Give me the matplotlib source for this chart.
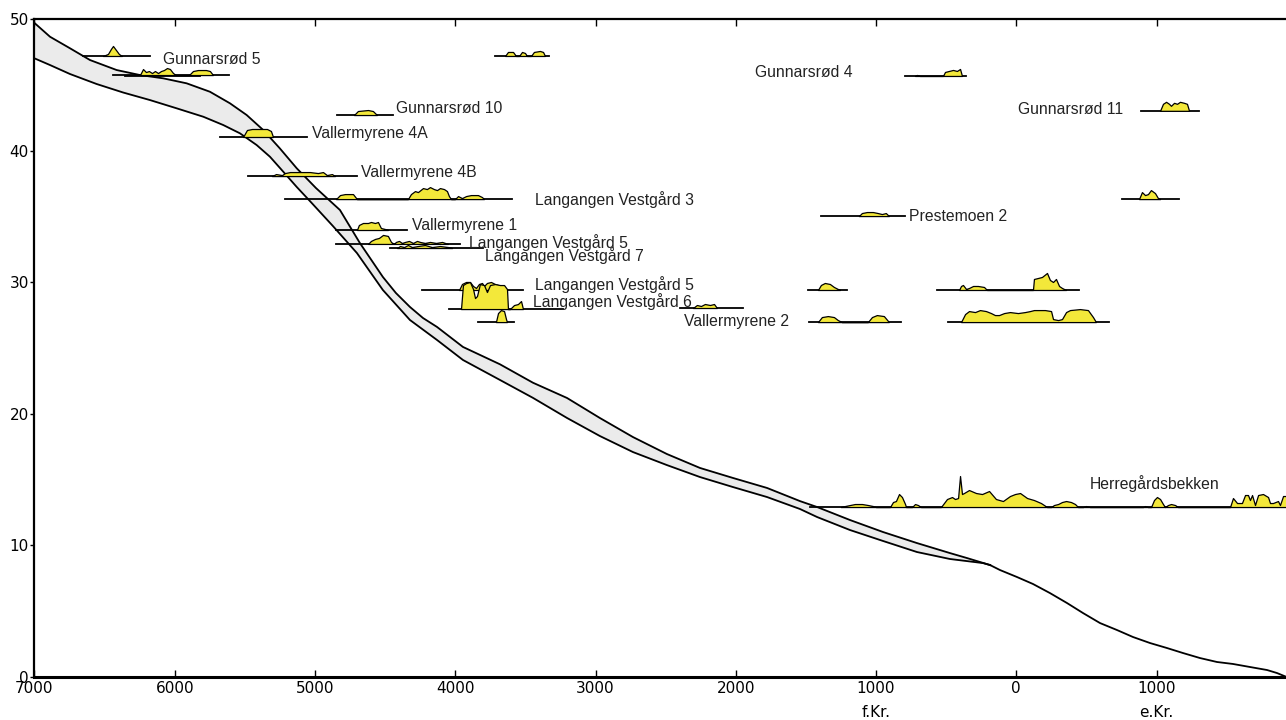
import matplotlib.pyplot as plt
import numpy as np

# shoreline displacement curve (year, m above sea level); negative years = f.Kr.
upper_year = [-7000, -6889, -6746, -6604, -6414, -6248, -6082, -5915, -5749, -5606, -5487,
              -5369, -5251, -5130, -4993, -4822, -4680, -4516, -4423, -4323, -4230, -4130,
              -3945, -3681, -3446, -3203, -2969, -2733, -2491, -2255, -2020, -1777, -1542,
              -1420, -1185, -950, -708, -473, -351, -187]
upper_level = [49.7, 48.65, 47.77, 46.88, 46.12, 45.74, 45.49, 45.11, 44.47, 43.59, 42.70,
               41.56, 40.17, 38.65, 37.15, 35.48, 32.97, 30.39, 29.17, 28.11, 27.27, 26.59,
               25.07, 23.75, 22.35, 21.19, 19.67, 18.22, 16.93, 15.87, 15.11, 14.35, 13.35,
               12.90, 11.91, 11.00, 10.16, 9.40, 9.02, 8.49]
lower_year = [-7000, -6889, -6747, -6557, -6367, -6177, -5986, -5796, -5654, -5535, -5416,
              -5321, -5226, -5130, -5036, -4872, -4701, -4516, -4323, -4130, -3945, -3681,
              -3446, -3203, -2969, -2733, -2491, -2255, -2020, -1777, -1542, -1420, -1185,
              -950, -708, -473, -237, -187]
lower_level = [47.01, 46.50, 45.82, 45.06, 44.41, 43.84, 43.21, 42.57, 41.94, 41.31, 40.42,
               39.53, 38.39, 37.23, 36.16, 34.26, 32.21, 29.40, 27.12, 25.60, 24.08, 22.56,
               21.20, 19.67, 18.30, 17.08, 16.09, 15.18, 14.42, 13.66, 12.75, 12.14, 11.15,
               10.32, 9.48, 8.95, 8.64, 8.49]
tail_year = [-187, -116, 5, 119, 240, 362, 476, 597, 718, 832, 954, 1075, 1189, 1310, 1431,
             1545, 1666, 1788, 1859, 1923]
tail_level = [8.49, 8.11, 7.58, 7.05, 6.36, 5.60, 4.84, 4.08, 3.55, 3.02, 2.56, 2.18, 1.80,
              1.42, 1.12, 0.97, 0.74, 0.51, 0.28, 0.0]

# dated sites: baseline level and span
line_level = [47.19, 45.74, 45.63, 47.19, 42.70, 41.03, 38.06, 36.31, 33.96, 32.90, 32.59,
              29.40, 27.95, 26.96, 28.03, 26.96, 26.96, 29.40, 29.40, 35.02, 45.67, 43.02,
              36.31, 12.90]
line_start = [-6654, -6440, -6355, -3717, -4843, -5677, -5478, -5214, -4850, -4850, -4465,
              -4237, -4045, -3838, -2398, -1478, -487, -1485, -565, -1392, -793, 889,
              754, -1471]
line_end = [-6177, -5613, -5820, -3332, -4444, -5057, -4701, -3595, -4344, -3966, -3802,
            -3517, -3232, -3581, -1948, -822, 661, -1207, 447, -793, -358, 1303,
            1160, 1930]

# summed probability profiles (year, relative height); index = baseline above
prof_year = {
    0: [-6512, -6476, -6455, -6440, -6419, -6398, -6376],
    1: [-6248, -6226, -6205, -6184, -6162, -6141, -6119, -6098, -6077, -6055, -6034, -6012, -5991,
        -5898, -5870, -5834, -5777, -5749, -5727],
    3: [-3645, -3624, -3588, -3567, -3545, -3524, -3503, -3488, -3460, -3439, -3396, -3374, -3360],
    4: [-4722, -4694, -4622, -4587, -4558],
    5: [-5513, -5485, -5449, -5342, -5314, -5299],
    6: [-5307, -5278, -5235, -5214, -5178, -5107, -5036, -4979, -4943, -4915, -4879, -4857],
    7: [-4850, -4822, -4786, -4729, -4701,
        -4337, -4316, -4287, -4266, -4230, -4202, -4180, -4152, -4130, -4109, -4080, -4059, -4045, -4030,
        -4002, -3980, -3952, -3923, -3888, -3838, -3809, -3795],
    8: [-4701, -4687, -4658, -4622, -4601, -4572, -4551, -4530, -4501, -4480],
    9: [-4622, -4601, -4572, -4544, -4515, -4480, -4458, -4437, -4423, -4401, -4380, -4358, -4330,
        -4301, -4273, -4251, -4216, -4180, -4137, -4094, -4052],
    10: [-4415, -4394, -4365, -4337, -4308, -4266, -4216, -4166, -4109, -4052, -4023],
    12: [-3959, -3945, -3923, -3895, -3873, -3859, -3845, -3824, -3795, -3774, -3752, -3717, -3681,
         -3652, -3631, -3624, -3610, -3581, -3553, -3531, -3517],
    11: [-3973, -3952, -3923, -3895, -3873, -3852, -3831, -3809, -3795, -3774, -3745, -3717, -3695, -3681],
    13: [-3710, -3695, -3674, -3652, -3638, -3631],
    14: [-2305, -2277, -2248, -2220, -2184, -2155, -2134],
    15: [-1414, -1386, -1343, -1300, -1272, -1243, -1058, -1029, -994, -944, -908],
    16: [-394, -365, -337, -294, -259, -216, -180, -152, -123, -87, -45, 12, 62, 98, 126, 205, 248,
         262, 298, 326, 355, 383, 454, 511, 547, 568],
    17: [-1414, -1393, -1365, -1329, -1300, -1272, -1257],
    18: [-408, -394, -380, -358, -337, -308, -273, -230, -209,
         119, 126, 155, 183, 219, 240, 262, 283, 305, 326, 355],
    19: [-1122, -1101, -1065, -1022, -987, -958, -930, -908],
    20: [-722, -708, -687, -523, -508, -480, -451, -423, -401, -387],
    21: [1025, 1046, 1068, 1089, 1103, 1125, 1146, 1167, 1196, 1217, 1232],
    22: [875, 896, 918, 939, 960, 989, 1010, 1025],
    23: [-1250, -1221, -1186, -1150, -1100, -1057, -1022, -1000,
         -900, -879, -858, -836, -815, -793, -786, -743, -722, -701, -679,
         -537, -494, -458, -437, -415, -401, -387, -373, -337, -287, -244, -194, -145, -95, -45, -9,
         27, 77, 126, 176, 219, 248, 269, 298, 326, 355, 390, 419, 440, 476, 497, 526,
         904, 918, 939, 961, 982, 1003, 1025, 1046, 1060, 1082, 1103, 1132, 1153,
         1524, 1545, 1574, 1609, 1631, 1652, 1666, 1681, 1702, 1724, 1759, 1795, 1809, 1830, 1866,
         1880, 1902, 1923, 1930],
}
prof_height = {
    0: [0, 2, 7, 10, 6, 2, 0],
    1: [0, 6, 3, 4, 2, 4, 2, 4, 5, 7, 6, 2, 0, 0, 4, 5, 5, 4, 0],
    3: [0, 4, 4, 0, 0, 4, 3, 0, 0, 4, 5, 4, 0],
    4: [0, 4, 5, 4, 0],
    5: [0, 7, 8, 8, 6, 0],
    6: [0, 2, 1, 3, 4, 4, 4, 3, 4, 1, 2, 0],
    7: [0, 4, 5, 5, 0,
        0, 5, 8, 7, 11, 10, 12, 10, 9, 11, 10, 8, 3, 0,
        0, 3, 1, 3, 4, 4, 2, 0],
    8: [0, 5, 7, 7, 8, 7, 8, 2, 1, 0],
    9: [0, 3, 5, 6, 9, 8, 2, 0, 2, 3, 1, 2, 3, 1, 3, 2, 1, 2, 1, 2, 0],
    10: [0, 2, 1, 3, 1, 2, 3, 1, 2, 1, 0],
    12: [0, 24, 26, 27, 20, 11, 13, 25, 24, 17, 24, 25, 24, 24, 20, 0, 0, 4, 5, 8, 0],
    11: [0, 6, 8, 8, 4, 2, 6, 7, 4, 7, 8, 6, 5, 0],
    13: [0, 9, 12, 11, 3, 0],
    14: [0, 3, 2, 4, 3, 4, 0],
    15: [0, 5, 6, 5, 2, 0, 0, 5, 7, 6, 0],
    16: [0, 8, 11, 10, 12, 11, 9, 7, 7, 9, 10, 9, 10, 11, 12, 12, 11, 3, 2, 3, 10, 12, 13, 12, 5, 0],
    17: [0, 5, 7, 6, 3, 1, 0],
    18: [0, 4, 5, 1, 2, 4, 4, 3, 0,
         0, 11, 12, 13, 17, 10, 8, 11, 4, 2, 0],
    19: [0, 3, 4, 4, 3, 2, 3, 0],
    20: [0, 1, 0, 0, 4, 5, 6, 5, 7, 0],
    21: [0, 7, 9, 7, 5, 8, 7, 9, 8, 7, 0],
    22: [0, 7, 4, 5, 9, 6, 1, 0],
    23: [0, 1, 2, 3, 3, 2, 1, 0,
         0, 5, 6, 13, 10, 3, 0, 0, 3, 2, 0,
         0, 8, 10, 8, 9, 31, 13, 14, 17, 14, 13, 16, 8, 6, 11, 13,
         14, 9, 7, 4, 0, 0, 2, 3, 5, 6, 5, 3, 0, 0, 1, 0,
         0, 1, 0, 0, 7, 10, 8, 3, 0, 2, 3, 2, 0,
         0, 9, 4, 4, 12, 12, 7, 12, 2, 12, 13, 10, 4, 4, 6,
         2, 11, 11, 11],
}
prob_scale = 1 / 13.15

labels = ["Gunnarsrød 5", "Gunnarsrød 10", "Vallermyrene 4A", "Vallermyrene 4B",
          "Langangen Vestgård 3", "Vallermyrene 1", "Langangen Vestgård 5", "Langangen Vestgård 7",
          "Langangen Vestgård 5", "Langangen Vestgård 6", "Vallermyrene 2", "Prestemoen 2",
          "Gunnarsrød 4", "Gunnarsrød 11", "Herregårdsbekken"]
label_x = [-6084, -4423, -5021, -4672, -3432, -4308, -3902, -3788, -3432, -3446, -2369, -765,
           -1863, 12, 526]
label_y = [46.9, 43.2, 41.3, 38.3, 36.3, 34.3, 33.0, 32.0, 29.8, 28.5, 27.0, 35.0, 45.9, 43.1, 14.7]

tick_years = [-7000, -6000, -5000, -4000, -3000, -2000, -1000, 0, 1000]

fig = plt.figure(figsize=(12.86, 7.2), dpi=100)
ax = fig.add_axes([0.0268, 0.0601, 0.9732, 0.9135])

# band
band_x = np.concatenate([upper_year, lower_year[::-1]])
band_y = np.concatenate([upper_level, lower_level[::-1]])
ax.fill(band_x, band_y, color='#ebebeb', zorder=1)
ax.plot(upper_year, upper_level, color='black', lw=1.3, zorder=2)
ax.plot(lower_year, lower_level, color='black', lw=1.3, zorder=2)
ax.plot(tail_year, tail_level, color='black', lw=1.3, zorder=2)

# sites
for i in range(len(line_level)):
    if i in prof_year:
        yrs = np.array(prof_year[i])
        h = np.array(prof_height[i]) * prob_scale
        ax.fill_between(yrs, line_level[i], line_level[i] + h, facecolor='#f3e83a',
                        edgecolor='black', lw=0.9, zorder=4)
    ax.plot([line_start[i], line_end[i]], [line_level[i], line_level[i]], color='black',
            lw=1.3, zorder=3)

for txt, x, y in zip(labels, label_x, label_y):
    ax.text(x, y, txt, ha='left', va='center', fontsize=11.3, family='Liberation Sans',
            color='#222222', zorder=5)

ax.set_xlim(-7000, 1923)
ax.set_ylim(0, 50)
ax.set_xticks(tick_years)
ax.set_xticklabels([str(abs(t)) for t in tick_years])
ax.set_yticks([0, 10, 20, 30, 40, 50])
ax.tick_params(axis='x', direction='in', top=True, length=5, width=1, labelsize=11, pad=3)
ax.tick_params(axis='y', direction='out', length=3, width=1, labelsize=11, pad=1)
ax.spines['right'].set_visible(False)
ax.spines['bottom'].set_linewidth(2.2)
ax.spines['top'].set_linewidth(1.6)
ax.spines['left'].set_linewidth(1.6)

ax.text(-1000, -0.054, "f.Kr.", transform=ax.get_xaxis_transform(), ha='center', va='center',
        fontsize=11)
ax.text(1000, -0.054, "e.Kr.", transform=ax.get_xaxis_transform(), ha='center', va='center',
        fontsize=11)

plt.savefig("out.png", dpi=100)
